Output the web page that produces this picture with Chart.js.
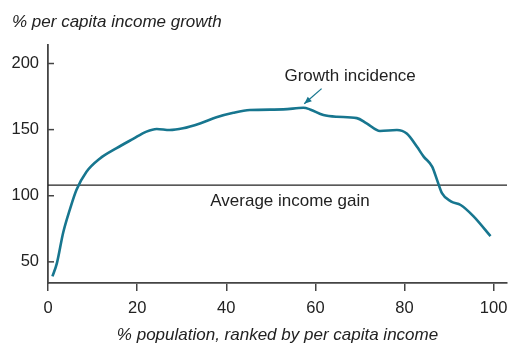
<!DOCTYPE html>
<html>
<head>
<meta charset="utf-8">
<script src="https://cdn.jsdelivr.net/npm/chart.js@4"></script>
<style>
  html, body { margin: 0; padding: 0; background: #fff; }
  #wrap { width: 511px; height: 345px; }
</style>
</head>
<body>
<div id="wrap"><canvas id="myChart" width="511" height="345"></canvas></div>
<script>
// data
const popPct = [1, 2, 3.4, 4.9, 6.4, 8.6, 11.6, 15.4, 19.1, 22.1, 24.4, 27.3, 30.3, 34.1, 37.8, 41.6, 45.3, 52.8, 57.3, 58.8, 61.8, 64.8, 69.3, 71.5, 74.5, 78.3, 80.5, 82.8, 84.3, 86.2, 87.3, 88.4, 90.4, 92.6, 95.5, 99.3];
const growth = [39, 49, 72, 89.5, 104.5, 118, 128, 136, 143, 148.5, 150.5, 149.7, 151, 154.7, 159.3, 162.7, 164.8, 165.3, 166.5, 165.3, 161, 159.7, 158.7, 154.7, 149, 149.7, 147, 137, 129.6, 122, 112, 102, 95.7, 93, 84.4, 69.4];
const avgGain = [108];
const xTicks = [0, 20, 40, 60, 80, 100];
const yTicks = [50, 100, 150, 200];

const FONT = "'Liberation Sans', Arial, sans-serif";
const TEXT = '#222';
const AXIS = '#444';

const annotate = {
    id: 'annotate',
    beforeDatasetsDraw(chart) {
        const {ctx, chartArea, scales: {x, y}} = chart;
        // average income gain line
        const ya = y.getPixelForValue(avgGain[0]);
        ctx.save();
        ctx.strokeStyle = '#222';
        ctx.lineWidth = 1.3;
        ctx.beginPath();
        ctx.moveTo(chartArea.left, ya);
        ctx.lineTo(chartArea.right, ya);
        ctx.stroke();
        ctx.restore();
    },
    afterDraw(chart) {
        const {ctx, chartArea, scales: {x, y}} = chart;
        ctx.save();
        // y ticks pointing inward
        ctx.strokeStyle = AXIS;
        ctx.lineWidth = 1.5;
        yTicks.forEach(v => {
            const py = y.getPixelForValue(v);
            ctx.beginPath();
            ctx.moveTo(chartArea.left, py);
            ctx.lineTo(chartArea.left + 6, py);
            ctx.stroke();
        });
        ctx.fillStyle = TEXT;
        ctx.font = 'italic 17px ' + FONT;
        ctx.textBaseline = 'middle';
        ctx.textAlign = 'left';
        ctx.fillText('% per capita income growth', 12, 22);
        ctx.textAlign = 'center';
        ctx.fillText('% population, ranked by per capita income', (chartArea.left + chartArea.right) / 2, 335);

        ctx.font = '17px ' + FONT;
        ctx.fillText('Growth incidence', x.getPixelForValue(67.8), y.getPixelForValue(190.5));
        ctx.fillText('Average income gain', x.getPixelForValue(54.3), y.getPixelForValue(96));

        // arrow to the curve
        const x1 = x.getPixelForValue(61.4), y1 = y.getPixelForValue(181);
        const x2 = x.getPixelForValue(57.5), y2 = y.getPixelForValue(169.5);
        ctx.strokeStyle = '#17768f';
        ctx.fillStyle = '#17768f';
        ctx.lineWidth = 1.3;
        ctx.beginPath();
        ctx.moveTo(x1, y1);
        ctx.lineTo(x2, y2);
        ctx.stroke();
        const ang = Math.atan2(y2 - y1, x2 - x1);
        ctx.beginPath();
        ctx.moveTo(x2, y2);
        ctx.lineTo(x2 - 8 * Math.cos(ang - 0.4), y2 - 8 * Math.sin(ang - 0.4));
        ctx.lineTo(x2 - 8 * Math.cos(ang + 0.4), y2 - 8 * Math.sin(ang + 0.4));
        ctx.closePath();
        ctx.fill();
        ctx.restore();
    }
};

const ctx = document.querySelector('#myChart');
new Chart(ctx, {
    type: 'line',
    data: {
        datasets: [
            {
                label: 'Growth incidence',
                data: popPct.map((p, i) => ({x: p, y: growth[i]})),
                borderColor: '#17768f',
                borderWidth: 2.6,
                pointRadius: 0,
                cubicInterpolationMode: 'monotone',
                fill: false
            }
        ]
    },
    options: {
        responsive: false,
        animation: false,
        layout: {
            padding: {top: 45, right: 4, left: 0, bottom: 0}
        },
        plugins: {
            legend: {display: false},
            tooltip: {enabled: false}
        },
        scales: {
            x: {
                type: 'linear',
                min: 0,
                max: 103,
                afterBuildTicks: s => { s.ticks = xTicks.map(v => ({value: v})); },
                afterFit: s => { s.height = 62; s.paddingLeft = 0; s.paddingRight = 0; },
                grid: {drawOnChartArea: false, drawTicks: true, tickLength: 8, color: AXIS, lineWidth: 1.5},
                border: {color: AXIS, width: 1.8},
                ticks: {padding: 8, color: TEXT, font: {family: FONT, size: 16.5}, maxRotation: 0}
            },
            y: {
                min: 34,
                max: 214,
                afterBuildTicks: s => { s.ticks = yTicks.map(v => ({value: v})); },
                afterFit: s => { s.width = 48; },
                grid: {drawOnChartArea: false, drawTicks: false},
                border: {color: AXIS, width: 1.8},
                ticks: {padding: 9, color: TEXT, font: {family: FONT, size: 16.5}}
            }
        }
    },
    plugins: [annotate]
});
</script>
</body>
</html>
